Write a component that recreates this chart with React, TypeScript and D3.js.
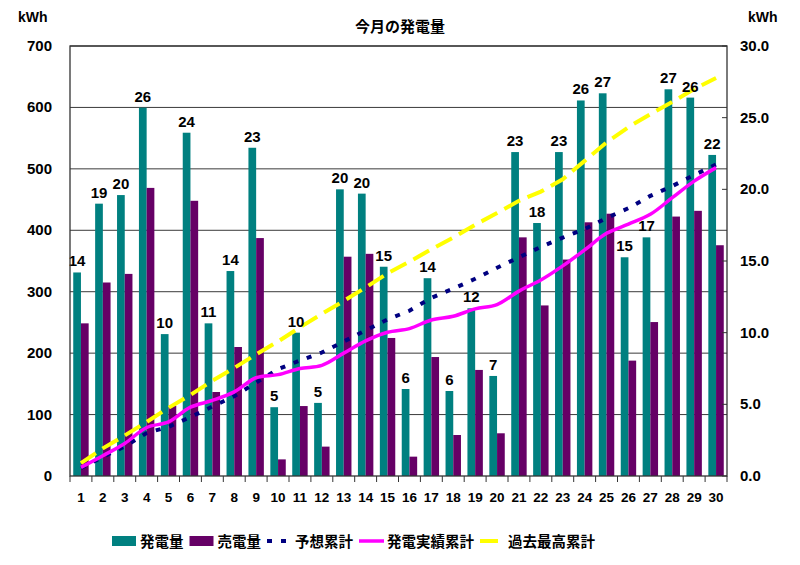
import { FC, useEffect, useRef } from 'react';
import * as d3 from 'd3';

const days = ['1', '2', '3', '4', '5', '6', '7', '8', '9', '10', '11', '12', '13', '14', '15',
  '16', '17', '18', '19', '20', '21', '22', '23', '24', '25', '26', '27', '28', '29', '30'];

// daily values (right axis, kWh)
const generation = [14.2, 19.0, 19.6, 25.7, 9.9, 23.95, 10.65, 14.3, 22.9, 4.8, 10.0, 5.1, 20.0, 19.7, 14.6,
  6.07, 13.8, 5.93, 11.7, 6.98, 22.6, 17.65, 22.6, 26.2, 26.7, 15.26, 16.65, 26.98, 26.4, 22.4];
const sold = [10.65, 13.5, 14.1, 20.1, 4.9, 19.2, 5.86, 9.0, 16.6, 1.16, 4.88, 2.05, 15.3, 15.5, 9.63,
  1.35, 8.3, 2.86, 7.4, 2.98, 16.65, 11.9, 15.1, 17.7, 18.3, 8.05, 10.74, 18.1, 18.5, 16.1];

// cumulative values (left axis, kWh)
const forecastCum = [13, 31, 48, 70, 80, 96, 113, 130, 152, 174, 188, 201, 219, 237, 255,
  269, 290, 305, 321, 339, 356, 373, 388, 402, 420, 436, 456, 472, 490, 507];
const actualCum = [14, 33, 53, 79, 88, 112, 123, 137, 160, 165, 175, 180, 200, 220, 234,
  240, 254, 260, 272, 279, 301, 319, 342, 368, 395, 410, 426, 453, 480, 502];
const recordCum = [21, 45, 66, 88, 111, 132, 155, 176, 198, 219, 242, 264, 285, 307, 330,
  349, 369, 388, 409, 428, 448, 463, 483, 513, 543, 568, 589, 609, 630, 648];

const leftTicks = [0, 100, 200, 300, 400, 500, 600, 700];
const rightTicks = [0, 5, 10, 15, 20, 25, 30];

const title = '今月の発電量';
const unit = 'kWh';
const legendItems = [
  { label: '発電量', kind: 'bar', color: '#008080' },
  { label: '売電量', kind: 'bar', color: '#660066' },
  { label: '予想累計', kind: 'dots', color: '#000080' },
  { label: '発電実績累計', kind: 'solid', color: '#ff00ff' },
  { label: '過去最高累計', kind: 'dash', color: '#ffff00' },
];

const NUM_FONT = '"Liberation Sans", Arial, sans-serif';
const JP_FONT = '"Noto Sans CJK JP", sans-serif';

const App: FC = () => {
  const svgRef = useRef<SVGSVGElement>(null);

  useEffect(() => {
    if (!svgRef.current) return;
    d3.select(svgRef.current).selectAll('*').remove();

    const W = 800;
    const H = 565;
    const margin = { top: 46, right: 73, bottom: 89, left: 70 };
    const width = W - margin.left - margin.right;
    const height = H - margin.top - margin.bottom;

    const root = d3.select(svgRef.current);
    root.append('rect').attr('width', W).attr('height', H).attr('fill', '#fff');

    const svg = root.append('g')
      .attr('transform', `translate(${margin.left},${margin.top})`);

    const x = d3.scaleBand().domain(days).range([0, width]).padding(0);
    const x1 = d3.scaleBand().domain(['gen', 'sold']).range([0, x.bandwidth()])
      .paddingInner(0).paddingOuter(0.42);
    const yL = d3.scaleLinear().domain([0, 700]).range([height, 0]);
    const yR = d3.scaleLinear().domain([0, 30]).range([height, 0]);

    // Grid lines
    svg.append('g')
      .selectAll('line')
      .data(leftTicks.filter(t => t > 0))
      .enter()
      .append('line')
      .attr('x1', 0)
      .attr('x2', width)
      .attr('y1', d => yL(d))
      .attr('y2', d => yL(d))
      .attr('stroke', '#3a3a3a')
      .attr('stroke-width', 1);

    // Bars
    const groups = svg.append('g')
      .selectAll('g')
      .data(days)
      .enter()
      .append('g')
      .attr('transform', d => `translate(${x(d)},0)`);

    groups.append('rect')
      .attr('x', x1('gen') as number)
      .attr('width', x1.bandwidth())
      .attr('y', (_, i) => yR(generation[i]))
      .attr('height', (_, i) => height - yR(generation[i]))
      .attr('fill', '#008080');

    groups.append('rect')
      .attr('x', x1('sold') as number)
      .attr('width', x1.bandwidth())
      .attr('y', (_, i) => yR(sold[i]))
      .attr('height', (_, i) => height - yR(sold[i]))
      .attr('fill', '#660066');

    // Lines
    const cx = (i: number) => (x(days[i]) as number) + x.bandwidth() / 2;

    const straight = d3.line<number>().x((_, i) => cx(i)).y(d => yL(d));
    const smooth = d3.line<number>().x((_, i) => cx(i)).y(d => yL(d)).curve(d3.curveCatmullRom.alpha(0.5));

    svg.append('path')
      .datum(recordCum)
      .attr('fill', 'none')
      .attr('stroke', '#ffff00')
      .attr('stroke-width', 4)
      .attr('stroke-dasharray', '18,8')
      .attr('d', straight);

    svg.append('path')
      .datum(forecastCum)
      .attr('fill', 'none')
      .attr('stroke', '#000080')
      .attr('stroke-width', 4)
      .attr('stroke-dasharray', '5,9')
      .attr('d', straight);

    svg.append('path')
      .datum(actualCum)
      .attr('fill', 'none')
      .attr('stroke', '#ff00ff')
      .attr('stroke-width', 3.5)
      .attr('d', smooth);

    // Data labels on generation bars
    svg.append('g')
      .selectAll('text')
      .data(generation)
      .enter()
      .append('text')
      .attr('x', (_, i) => (x(days[i]) as number) + (x1('gen') as number) + x1.bandwidth() / 2)
      .attr('y', d => yR(d) - 6)
      .attr('text-anchor', 'middle')
      .style('font-family', NUM_FONT)
      .style('font-weight', 'bold')
      .style('font-size', '15px')
      .style('fill', '#000')
      .text(d => Math.round(d).toString());

    // Frame
    svg.append('rect')
      .attr('width', width)
      .attr('height', height)
      .attr('fill', 'none')
      .attr('stroke', '#333')
      .attr('stroke-width', 1.3);

    // X axis ticks at category boundaries
    svg.append('g')
      .selectAll('line')
      .data(d3.range(days.length + 1))
      .enter()
      .append('line')
      .attr('x1', i => i * x.step())
      .attr('x2', i => i * x.step())
      .attr('y1', height)
      .attr('y2', height + 6)
      .attr('stroke', '#333');

    svg.append('g')
      .selectAll('text')
      .data(days)
      .enter()
      .append('text')
      .attr('x', d => (x(d) as number) + x.bandwidth() / 2)
      .attr('y', height + 26)
      .attr('text-anchor', 'middle')
      .style('font-family', NUM_FONT)
      .style('font-weight', 'bold')
      .style('font-size', '13.5px')
      .text(d => d);

    // Left axis labels
    svg.append('g')
      .selectAll('text')
      .data(leftTicks)
      .enter()
      .append('text')
      .attr('x', -18)
      .attr('y', d => yL(d) + 5)
      .attr('text-anchor', 'end')
      .style('font-family', NUM_FONT)
      .style('font-weight', 'bold')
      .style('font-size', '15px')
      .text(d => d.toString());

    // Right axis ticks + labels
    svg.append('g')
      .selectAll('line')
      .data(rightTicks)
      .enter()
      .append('line')
      .attr('x1', width - 5)
      .attr('x2', width)
      .attr('y1', d => yR(d))
      .attr('y2', d => yR(d))
      .attr('stroke', '#333');

    svg.append('g')
      .selectAll('text')
      .data(rightTicks)
      .enter()
      .append('text')
      .attr('x', width + 13)
      .attr('y', d => yR(d) + 5)
      .attr('text-anchor', 'start')
      .style('font-family', NUM_FONT)
      .style('font-weight', 'bold')
      .style('font-size', '15px')
      .text(d => d.toFixed(1));

    // Units
    root.append('text')
      .attr('x', 18)
      .attr('y', 22)
      .style('font-family', NUM_FONT)
      .style('font-weight', 'bold')
      .style('font-size', '14px')
      .text(unit);

    root.append('text')
      .attr('x', 748)
      .attr('y', 22)
      .style('font-family', NUM_FONT)
      .style('font-weight', 'bold')
      .style('font-size', '14px')
      .text(unit);

    // Title
    root.append('text')
      .attr('x', 400)
      .attr('y', 32)
      .attr('text-anchor', 'middle')
      .style('font-family', JP_FONT)
      .style('font-weight', 'bold')
      .style('font-size', '15px')
      .text(title);

    // Legend
    const legend = root.append('g').attr('transform', 'translate(112,541)');
    let cursor = 0;
    legendItems.forEach(item => {
      const g = legend.append('g').attr('transform', `translate(${cursor},0)`);
      if (item.kind === 'bar') {
        g.append('rect').attr('x', 0).attr('y', -5).attr('width', 24).attr('height', 10).attr('fill', item.color);
      } else {
        g.append('line')
          .attr('x1', 0)
          .attr('x2', 25)
          .attr('y1', 0)
          .attr('y2', 0)
          .attr('stroke', item.color)
          .attr('stroke-width', item.kind === 'solid' ? 3.5 : 4)
          .attr('stroke-dasharray', item.kind === 'dots' ? '5,9' : item.kind === 'dash' ? '18,8' : null);
      }
      const t = g.append('text')
        .attr('x', 28)
        .attr('y', 5.5)
        .style('font-family', JP_FONT)
        .style('font-weight', 'bold')
        .style('font-size', '14.5px')
        .text(item.label);
      const tw = (t.node() as SVGTextElement).getComputedTextLength();
      cursor += 28 + tw + 6;
    });
  }, []);

  return (
    <svg
      ref={svgRef}
      width={800}
      height={565}
      style={{ position: 'absolute', left: 0, top: 0, background: '#fff' }}
    />
  );
};

export default App;
